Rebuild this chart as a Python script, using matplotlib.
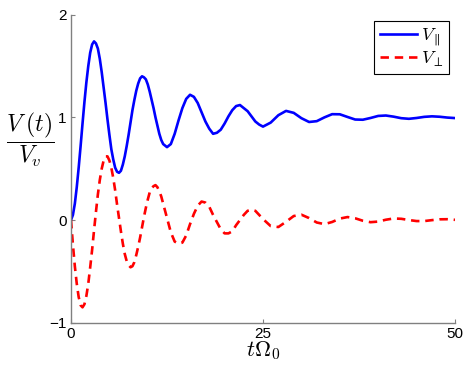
import numpy as np
import matplotlib
matplotlib.use("Agg")
from matplotlib import pyplot as plt

plt.rcParams['mathtext.fontset'] = 'cm'
plt.rcParams['font.family'] = ['Liberation Sans', 'DejaVu Sans']

# ~~~~~~~~~~~~~~~~~~~~~~~~~~~~~~~~~~~~~~~~~~~~~~~~~~~~~~~~
# Values (time in units of 1/Omega_0)
# t = 0..12 every 0.25, 12.5..25 every 0.5, 26..50 every 1
t_early = [0.0, 0.25, 0.5, 0.75, 1.0, 1.25, 1.5, 1.75, 2.0, 2.25, 2.5, 2.75, 3.0, 3.25, 3.5,
           3.75, 4.0, 4.25, 4.5, 4.75, 5.0, 5.25, 5.5, 5.75, 6.0, 6.25, 6.5, 6.75, 7.0, 7.25,
           7.5, 7.75, 8.0, 8.25, 8.5, 8.75, 9.0, 9.25, 9.5, 9.75, 10.0, 10.25, 10.5, 10.75,
           11.0, 11.25, 11.5, 11.75, 12.0]
t_mid = [12.5, 13.0, 13.5, 14.0, 14.5, 15.0, 15.5, 16.0, 16.5, 17.0, 17.5, 18.0, 18.5,
         19.0, 19.5, 20.0, 20.5, 21.0, 21.5, 22.0, 22.5, 23.0, 23.5, 24.0, 24.5, 25.0]
t_late = [26, 27, 28, 29, 30, 31, 32, 33, 34, 35, 36, 37, 38, 39, 40, 41, 42, 43, 44,
          45, 46, 47, 48, 49, 50]

v_par_early = [0.00, 0.05, 0.16, 0.32, 0.51, 0.72, 0.94, 1.15, 1.34, 1.50, 1.63, 1.71, 1.74,
               1.72, 1.67, 1.57, 1.44, 1.29, 1.14, 0.98, 0.83, 0.69, 0.59, 0.51, 0.47, 0.46,
               0.48, 0.54, 0.62, 0.72, 0.83, 0.95, 1.07, 1.17, 1.26, 1.33, 1.38, 1.40, 1.39,
               1.37, 1.32, 1.25, 1.17, 1.09, 1.00, 0.92, 0.84, 0.78, 0.74]
v_par_mid = [0.71, 0.74, 0.84, 0.97, 1.09, 1.18, 1.22, 1.20, 1.14, 1.05, 0.96, 0.89, 0.84,
             0.85, 0.88, 0.94, 1.01, 1.07, 1.11, 1.12, 1.09, 1.06, 1.01, 0.96, 0.93, 0.91]
v_par_late = [0.949, 1.021, 1.063, 1.044, 0.992, 0.955, 0.963, 1.000, 1.031, 1.030, 1.004,
              0.979, 0.977, 0.994, 1.014, 1.018, 1.007, 0.992, 0.986, 0.994, 1.005, 1.010,
              1.006, 0.998, 0.993]

v_perp_early = [0.00, -0.24, -0.45, -0.62, -0.75, -0.83, -0.85, -0.82, -0.74, -0.62, -0.46,
                -0.29, -0.10, 0.08, 0.25, 0.39, 0.50, 0.58, 0.62, 0.62, 0.58, 0.51, 0.41,
                0.29, 0.15, 0.02, -0.11, -0.23, -0.33, -0.40, -0.44, -0.46, -0.45, -0.41,
                -0.34, -0.26, -0.17, -0.07, 0.03, 0.12, 0.20, 0.27, 0.31, 0.33, 0.34, 0.32,
                0.28, 0.23, 0.16]
v_perp_mid = [0.02, -0.12, -0.21, -0.23, -0.22, -0.15, -0.04, 0.06, 0.14, 0.18, 0.17, 0.13,
              0.05, -0.02, -0.09, -0.13, -0.13, -0.11, -0.05, 0.00, 0.05, 0.09, 0.10, 0.09,
              0.05, 0.01]
v_perp_late = [-0.059, -0.068, -0.017, 0.039, 0.052, 0.019, -0.024, -0.040, -0.019, 0.014,
               0.029, 0.017, -0.007, -0.021, -0.015, 0.003, 0.015, 0.012, 0.000, -0.010,
               -0.010, -0.001, 0.007, 0.008, 0.002]

xticks = [0, 25, 50]
yticks = [-1, 0, 1, 2]
ytick_labels = ['\u22121', '0', '1', '2']

t = np.array(t_early + t_mid + t_late)
v_par = np.array(v_par_early + v_par_mid + v_par_late)
v_perp = np.array(v_perp_early + v_perp_mid + v_perp_late)

# ~~~~~~~~~~~~~~~~~~~~~~~~~~~~~~~~~~~~~~~~~~~~~~~~~~~~~~~~
fig = plt.figure(figsize=(4.69, 3.72), dpi=100)
ax = fig.add_axes([71/469, 1 - 322.7/372, (455 - 71)/469, (322.7 - 14.7)/372])

ax.plot(t, v_par, color='#0000ff', lw=1.9, label=r'$V_{\parallel}$')
ax.plot(t, v_perp, color='#ff0000', lw=1.9, ls=(0, (3.2, 2.2)), label=r'$V_{\perp}$')

ax.set_xlim(0, 50)
ax.set_ylim(-1, 2)
ax.set_xticks(xticks)
ax.set_yticks(yticks)
ax.set_yticklabels(ytick_labels)

for side in ['top', 'right']:
    ax.spines[side].set_visible(False)
for side in ['left', 'bottom']:
    ax.spines[side].set_color('#808080')
    ax.spines[side].set_linewidth(1.0)
ax.tick_params(direction='in', length=3, width=0.8, color='#808080',
               labelsize=11, pad=3)

ax.set_xlabel(r'$t\Omega_0$', fontsize=16, labelpad=-1)
ax.set_ylabel(r'$\dfrac{V\;(t)}{V_v}$', fontsize=17, rotation=0)
ax.yaxis.set_label_coords(-0.107, 0.593)
ax.yaxis.label.set_ha('center')
ax.yaxis.label.set_va('center')

leg = ax.legend(loc='upper right', bbox_to_anchor=(449.3/469, 1 - 20.7/372),
                bbox_transform=fig.transFigure, borderaxespad=0, fontsize=13,
                handlelength=2.1, handletextpad=0.2, borderpad=0.3, labelspacing=0.1,
                fancybox=False, framealpha=1)
leg.get_frame().set_edgecolor('black')
leg.get_frame().set_linewidth(0.8)

plt.savefig('out.png', dpi=100)
